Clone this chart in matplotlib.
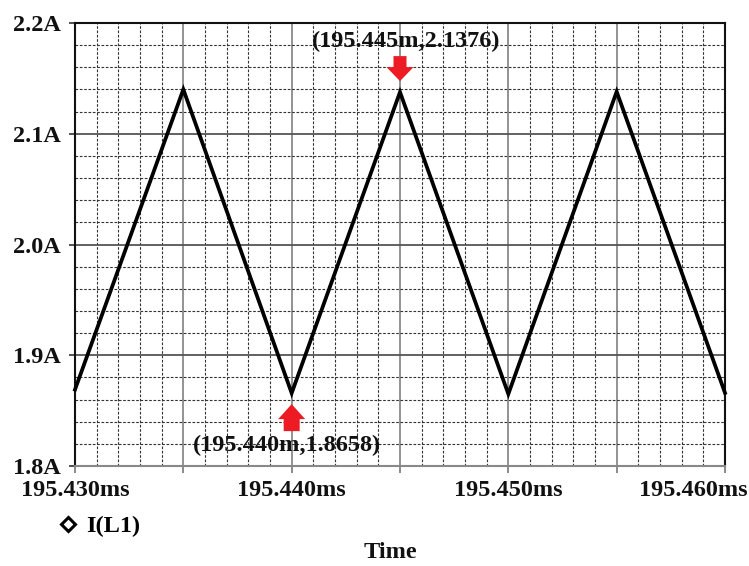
import matplotlib
matplotlib.use("Agg")
import matplotlib.pyplot as plt
from matplotlib.ticker import MultipleLocator, FuncFormatter
from matplotlib.lines import Line2D
from matplotlib.patches import Polygon
import matplotlib.transforms as mtransforms

# Inductor current I(L1) over three switching periods (time in ms, current in A)
time_ms = [195.430, 195.435, 195.440, 195.445, 195.450, 195.455, 195.460]
current_a = [1.869, 2.140, 1.8658, 2.1376, 1.865, 2.138, 1.866]

# Cursor readouts
peak_t, peak_i = 195.445, 2.1376
valley_t, valley_i = 195.440, 1.8658

x_ticks = [195.430, 195.440, 195.450, 195.460]
y_ticks = [1.8, 1.9, 2.0, 2.1, 2.2]

FONT = "Liberation Serif"
FS = 17.5
RED = "#ed1c24"

fig = plt.figure(figsize=(7.49, 5.66), dpi=100)
ax = fig.add_axes([75 / 749, 1 - 466 / 566, 650 / 749, 443 / 566])

ax.set_xlim(195.430, 195.460)
ax.set_ylim(1.8, 2.2)

# grid: solid major, dashed minor
ax.xaxis.set_major_locator(MultipleLocator(0.005))
ax.xaxis.set_minor_locator(MultipleLocator(0.001))
ax.yaxis.set_major_locator(MultipleLocator(0.1))
ax.yaxis.set_minor_locator(MultipleLocator(0.02))
ax.grid(which="minor", axis="both", color="#333333", linestyle=(0, (2.4, 1.5)), linewidth=0.8)
ax.grid(which="major", axis="x", color="#8a8a8a", linestyle="-", linewidth=1.3)
ax.grid(which="major", axis="y", color="#555555", linestyle="-", linewidth=1.3)
ax.set_axisbelow(True)

def xfmt(v, pos):
    if any(abs(v - t) < 1e-6 for t in x_ticks):
        return f"{v:.3f}ms"
    return ""

def yfmt(v, pos):
    if any(abs(v - t) < 1e-6 for t in y_ticks):
        return f"{v:.1f}A"
    return ""

ax.xaxis.set_major_formatter(FuncFormatter(xfmt))
ax.yaxis.set_major_formatter(FuncFormatter(yfmt))
ax.tick_params(which="minor", length=0)
ax.tick_params(axis="x", which="major", direction="out", length=5, width=1.2,
               color="#777777", pad=5)
ax.tick_params(axis="y", which="major", direction="out", length=4, width=1.2,
               color="#333333", pad=6)
for lab in ax.get_xticklabels() + ax.get_yticklabels():
    lab.set_fontfamily(FONT)
    lab.set_fontweight("bold")
    lab.set_fontsize(FS)
    lab.set_color("#111111")

for side in ("left", "top", "right"):
    ax.spines[side].set_color("#111111")
    ax.spines[side].set_linewidth(1.5)
ax.spines["bottom"].set_color("#888888")
ax.spines["bottom"].set_linewidth(1.5)

# trace
ax.plot(time_ms, current_a, color="black", linewidth=2.7, solid_joinstyle="miter",
        zorder=3, clip_on=False)

# cursor labels
ax.annotate(f"({peak_t:.3f}m,{peak_i:.4f})", xy=(peak_t, peak_i),
            xytext=(4.5, 36.5), textcoords="offset points", ha="center", va="center",
            fontfamily=FONT, fontweight="bold", fontsize=FS, color="#111111")
ax.annotate(f"({valley_t:.3f}m,{valley_i:.4f})", xy=(valley_t, valley_i),
            xytext=(-3.5, -37.5), textcoords="offset points", ha="center", va="center",
            fontfamily=FONT, fontweight="bold", fontsize=FS, color="#111111")

# block arrows pointing at the cursor points (vertex offsets in inches)
def block_arrow(xd, yd, direction, tip, head_base, tail_end, head_hw, tail_hw):
    s = direction
    verts = [
        (0, s * tip),
        (-head_hw, s * head_base),
        (-tail_hw, s * head_base),
        (-tail_hw, s * tail_end),
        (tail_hw, s * tail_end),
        (tail_hw, s * head_base),
        (head_hw, s * head_base),
    ]
    trans = fig.dpi_scale_trans + mtransforms.ScaledTranslation(xd, yd, ax.transData)
    ax.add_patch(Polygon(verts, closed=True, transform=trans, facecolor=RED,
                         edgecolor="none", zorder=4, clip_on=False))

block_arrow(peak_t, peak_i, 1, 0.11, 0.25, 0.36, 0.135, 0.065)
block_arrow(valley_t, valley_i, -1, 0.11, 0.26, 0.38, 0.135, 0.08)

# last tick label shifted inward so it stays on the canvas
labels = ax.get_xticklabels()
for lab in labels:
    if lab.get_text() == "195.460ms":
        lab.set_transform(lab.get_transform() +
                          mtransforms.ScaledTranslation(-0.32, 0, fig.dpi_scale_trans))

ax.set_xlabel("Time", fontfamily=FONT, fontweight="bold", fontsize=FS,
              color="#111111", va="center")
ax.xaxis.set_label_coords((390 - 75) / 650, (466 - 553) / 443)

handle = Line2D([], [], linestyle="none", marker="D", markersize=7,
                markerfacecolor="white", markeredgecolor="black", markeredgewidth=2.2)
fig.legend(handles=[handle], labels=["I(L1)"], loc="center left",
           bbox_to_anchor=(61 / 749, 1 - 526 / 566), frameon=False,
           borderpad=0, borderaxespad=0, handlelength=0.6, handletextpad=0.42,
           prop={"family": FONT, "weight": "bold", "size": FS})

fig.savefig("out.png", dpi=100)
